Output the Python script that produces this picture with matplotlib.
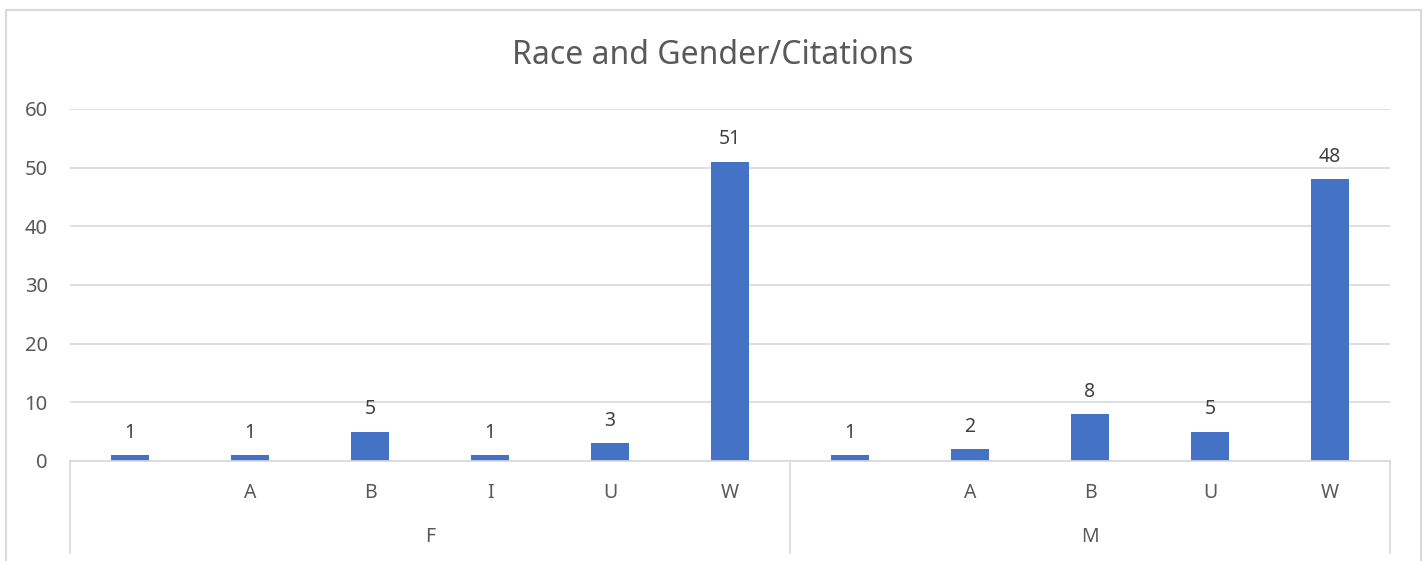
import matplotlib
matplotlib.use("Agg")
import matplotlib.pyplot as plt
import matplotlib.transforms as mtransforms
from matplotlib.patches import Rectangle
import numpy as np

plt.rcParams["font.family"] = ["Noto Sans", "DejaVu Sans"]

# data
genders = ["F", "M"]
races_f = ["", "A", "B", "I", "U", "W"]
races_m = ["", "A", "B", "U", "W"]
counts_f = [1, 1, 5, 1, 3, 51]
counts_m = [1, 2, 8, 5, 48]

BAR = "#4472C4"
GRID = "#d9d9d9"
TXT = "#595959"

labels = races_f + races_m
values = counts_f + counts_m
x = np.arange(len(values))

fig = plt.figure(figsize=(14.28, 5.61), dpi=100)
ax = fig.add_axes([70 / 1428, 1 - 461 / 561, 1320 / 1428, 352 / 561])

# chart border (bottom edge falls outside the image)
fig.add_artist(Rectangle((6 / 1428, -0.05), 1415 / 1428, 1 - 10 / 561 + 0.05,
                         transform=fig.transFigure, fill=False,
                         edgecolor=GRID, linewidth=1.5))

ax.bar(x, values, 0.31, color=BAR, zorder=3)
for xi, v in zip(x, values):
    ax.annotate(str(v), (xi, v), xytext=(0, 9), textcoords="offset points",
                ha="center", va="bottom", fontsize=14, color="#404040")

ax.set_xlim(-0.5, len(values) - 0.5)
ax.set_ylim(0, 60)
ax.set_yticks(range(0, 61, 10))
ax.grid(axis="y", color=GRID, linewidth=1.2, zorder=0)
for s in ax.spines.values():
    s.set_visible(False)
ax.set_xticks([])
ax.tick_params(axis="y", length=0, pad=16, labelsize=14.5, labelcolor=TXT)

# multi-level category axis
trans = mtransforms.blended_transform_factory(ax.transData, ax.transAxes)
ax.plot([-0.5, len(values) - 0.5], [0, 0], transform=trans, color=GRID,
        linewidth=1.2, clip_on=False, zorder=4)
bot = -(553 - 461) / 352
for xb in [-0.5, len(races_f) - 0.5, len(values) - 0.5]:
    ax.plot([xb, xb], [0, bot], transform=trans, color=GRID, linewidth=1.2,
            clip_on=False)
for xi, lab in zip(x, labels):
    ax.text(xi, -(493 - 461) / 352, lab, transform=trans, ha="center",
            va="center", fontsize=14, color=TXT)
centers = [(len(races_f) - 1) / 2, len(races_f) + (len(races_m) - 1) / 2]
for c, g in zip(centers, genders):
    ax.text(c, -(537 - 461) / 352, g, transform=trans, ha="center",
            va="center", fontsize=14, color=TXT)

fig.text(713 / 1428, 1 - 55 / 561, "Race and Gender/Citations", ha="center",
         va="center", fontsize=23, color=TXT)

fig.savefig("out.png", dpi=100)
